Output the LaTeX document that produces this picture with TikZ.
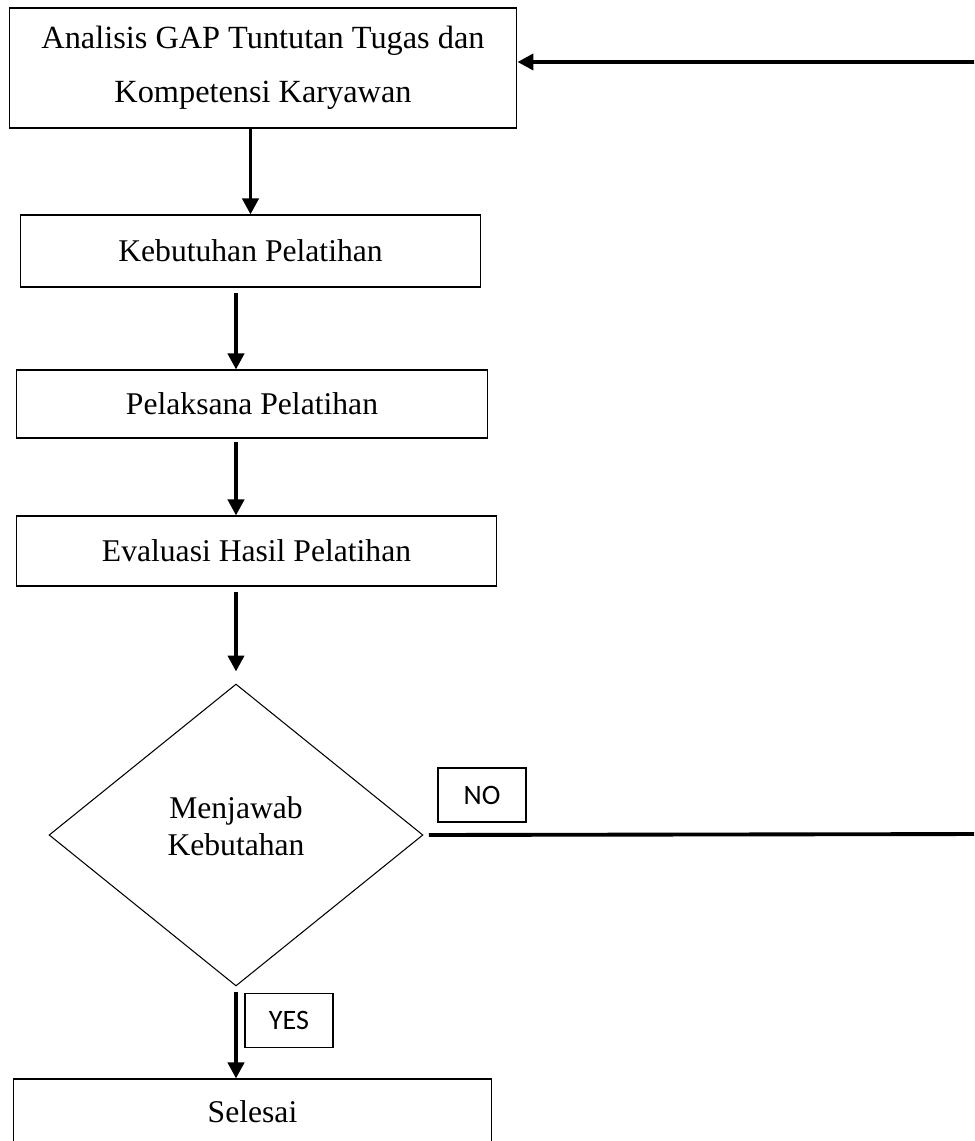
\documentclass[tikz,border=0pt]{standalone}
\usepackage{fontspec}
\setmainfont{Liberation Serif}
\newfontfamily\jawabfont{Carlito}
\usetikzlibrary{shapes.geometric,arrows.meta,positioning}

\begin{document}
\begin{tikzpicture}[
	x=0.02cm, y=-0.02cm,
	proses/.style={rectangle, draw, line width=0.6pt, inner sep=0pt, align=center, font=\fontsize{18}{26}\selectfont},
	keputusan/.style={diamond, draw, line width=0.6pt, inner sep=0pt, minimum width=7.48cm, minimum height=6.04cm, align=center, font=\fontsize{18}{21}\selectfont},
	jawab/.style={rectangle, draw, line width=0.6pt, minimum height=1.08cm, font=\jawabfont\fontsize{16}{18}\selectfont},
	alur/.style={line width=2.2pt, -{Triangle[length=0.32cm, width=0.32cm]}}
	]
	\useasboundingbox (0,0) rectangle (974,1141);
	\clip (0,0) rectangle (974,1141);

	% Tahapan
	\node[proses, minimum width=10.16cm, minimum height=2.4cm, font=\fontsize{18.4}{30.6}\selectfont] (analisis) at (263,68) {Analisis GAP Tuntutan Tugas dan\\Kompetensi Karyawan};
	\node[proses, minimum width=9.22cm, minimum height=1.44cm] (kebutuhan) at (250.5,251) {Kebutuhan Pelatihan};
	\node[proses, minimum width=9.44cm, minimum height=1.36cm] (pelaksana) at (252,404) {Pelaksana Pelatihan};
	\node[proses, minimum width=9.62cm, minimum height=1.4cm] (evaluasi) at (256.5,551) {Evaluasi Hasil Pelatihan};

	% Keputusan
	\node[keputusan] (menjawab) at (236,835) {\raisebox{5pt}[\height][\depth]{Menjawab}\\\raisebox{5pt}[\height][\depth]{Kebutahan}};
	\node[jawab, minimum width=1.76cm] (no) at (482,795) {NO};
	\node[jawab, minimum width=1.76cm] (yes) at (289,1020.5) {YES};

	% Akhir
	\node[proses, minimum width=9.58cm, minimum height=1.32cm] (selesai) at (252.5,1112) {Selesai};

	\coordinate (balikbawah) at (990,834);
	\coordinate (balikatas) at (990,62);

	\draw[alur] (analisis.south -| kebutuhan.north) -- (kebutuhan.north);
	\draw[alur, shorten <=3pt] (kebutuhan.south -| menjawab.north) -- (pelaksana.north -| menjawab.north);
	\draw[alur, shorten <=2pt] (pelaksana.south -| menjawab.north) -- (evaluasi.north -| menjawab.north);
	\draw[alur, shorten <=3pt, shorten >=0.24cm] (evaluasi.south -| menjawab.north) -- (menjawab.north);
	\draw[alur, shorten <=3pt] (menjawab.south) -- (selesai.north -| menjawab.south);

	\draw[line width=2.2pt, shorten <=3pt] (menjawab.east) -- (balikbawah) -- (balikatas);
	\draw[alur] (balikatas) -- (balikatas -| analisis.east);
\end{tikzpicture}
\end{document}
